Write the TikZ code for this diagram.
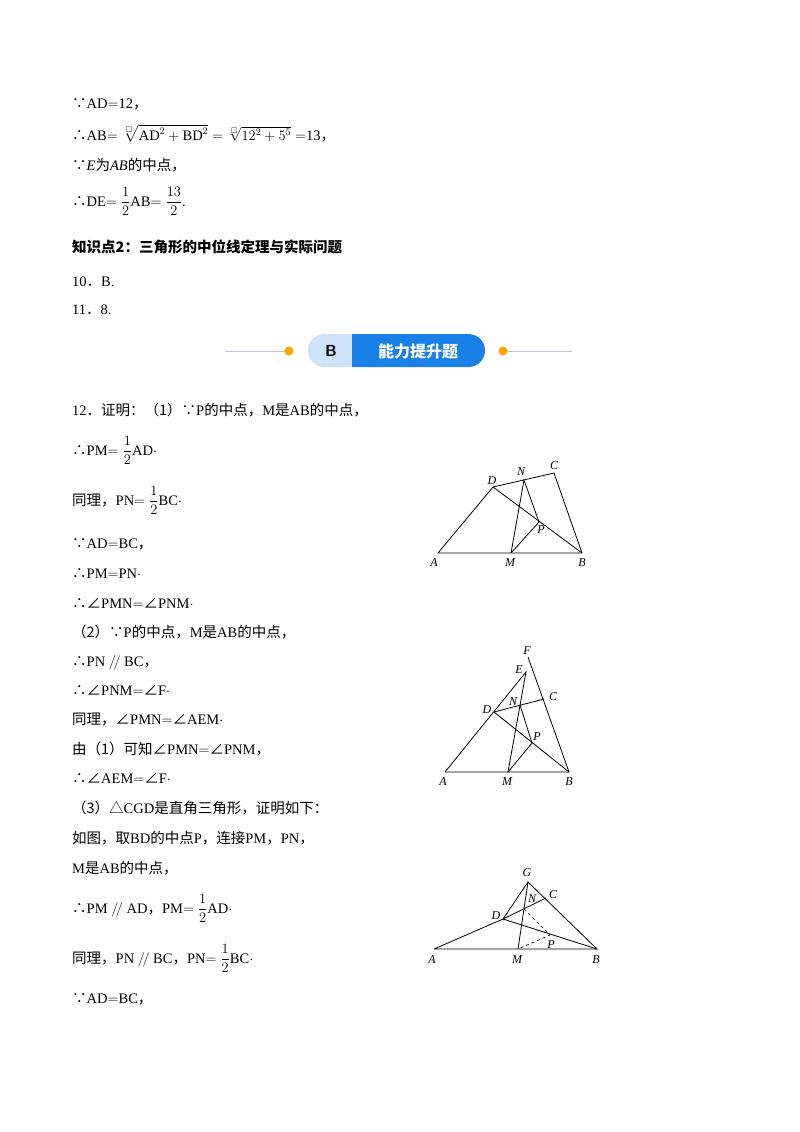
\documentclass[tikz,border=0pt]{standalone}
\usepackage{amssymb}
\usepackage{fontspec}
\setmainfont{Liberation Serif}
\newfontfamily\cjk{Noto Sans CJK SC}
\newcommand{\zh}[1]{{\cjk #1}}
\begin{document}
\begin{tikzpicture}[x=1pt,y=-1pt,
  txt/.style={anchor=base west,inner sep=0pt,font=\fontsize{14.5}{16}\selectfont},
  lbl/.style={inner sep=0pt,font=\fontsize{12}{13}\selectfont\itshape},
  seg/.style={line width=0.8pt},
  dseg/.style={line width=0.7pt,dashed}]
\useasboundingbox (0,0) rectangle (800,1132);
\fill[white] (0,0) rectangle (800,1132);
\def\L{72}
\node[txt] (t1) at (\L,108) {\zh{∵}AD$=$12\zh{，}};
\node[txt] (t2) at (\L,140) {\zh{∴}AB$=\sqrt[\square]{\mathrm{AD}^2+\mathrm{BD}^2}=\sqrt[\square]{12^2+5^5}=$13\zh{，}};
\node[txt] (t3) at (\L,170) {\zh{∵}\textit{E}\zh{为}\textit{AB}\zh{的中点，}};
\node[txt] (t4) at (\L,206) {\zh{∴}DE$=\displaystyle\frac{1}{2}$AB$=\displaystyle\frac{13}{2}$.};
\node[txt] (t5) at (\L,252) {\cjk\bfseries 知识点2：三角形的中位线定理与实际问题};
\node[txt] (t6) at (\L,286) {10\zh{．}B.};
\node[txt] (t7) at (\L,314) {11\zh{．}8.};
% banner
\draw[line width=1pt,color=blue!20!gray!40] (225,351) -- (289,351);
\draw[line width=1pt,color=blue!20!gray!40] (503,351) -- (572,351);
\fill[orange!70!yellow] (289,351) circle (4.5);
\fill[orange!70!yellow] (503,351) circle (4.5);
\begin{scope}
\clip (300,330) rectangle (352,370);
\fill[color={rgb,255:red,206;green,226;blue,248},rounded corners=16.5pt] (308,334) rectangle (485,367);
\end{scope}
\begin{scope}
\clip (352,330) rectangle (490,370);
\fill[color={rgb,255:red,24;green,128;blue,230},rounded corners=16.5pt] (308,334) rectangle (485,367);
\end{scope}
\node[inner sep=0pt,font=\fontsize{16}{18}\selectfont\sffamily\bfseries] (bb) at (331,351) {B};
\node[inner sep=0pt,text=white,font=\fontsize{16}{18}\selectfont\cjk\bfseries] (bt) at (418,351) {能力提升题};
% proof
\node[txt] (p1) at (\L,415) {12\zh{．证明：（1）∵}P\zh{的中点，}M\zh{是}AB\zh{的中点，}};
\node[txt] (p2) at (\L,455) {\zh{∴}PM$=\displaystyle\frac{1}{2}$AD$\cdot$};
\node[txt] (p3) at (\L,505) {\zh{同理，}PN$=\displaystyle\frac{1}{2}$BC$\cdot$};
\node[txt] (p4) at (\L,548) {\zh{∵}AD$=$BC\zh{，}};
\node[txt] (p5) at (\L,578) {\zh{∴}PM$=$PN$\cdot$};
\node[txt] (p6) at (\L,608) {\zh{∴∠}PMN$=$\zh{∠}PNM$\cdot$};
\node[txt] (p7) at (\L,637) {\zh{（2）∵}P\zh{的中点，}M\zh{是}AB\zh{的中点，}};
\node[txt] (p8) at (\L,666) {\zh{∴}PN $/\!/$ BC\zh{，}};
\node[txt] (p9) at (\L,695) {\zh{∴∠}PNM$=$\zh{∠}F$\cdot$};
\node[txt] (p10) at (\L,724) {\zh{同理，∠}PMN$=$\zh{∠}AEM$\cdot$};
\node[txt] (p11) at (\L,754) {\zh{由（1）可知∠}PMN$=$\zh{∠}PNM\zh{，}};
\node[txt] (p12) at (\L,783) {\zh{∴∠}AEM$=$\zh{∠}F$\cdot$};
\node[txt] (p13) at (\L,813) {\zh{（3）△}CGD\zh{是直角三角形，证明如下：}};
\node[txt] (p14) at (\L,843) {\zh{如图，取}BD\zh{的中点}P\zh{，连接}PM\zh{，}PN\zh{，}};
\node[txt] (p15) at (\L,873) {M\zh{是}AB\zh{的中点，}};
\node[txt] (p16) at (\L,913) {\zh{∴}PM $/\!/$ AD\zh{，}PM$=\displaystyle\frac{1}{2}$AD$\cdot$};
\node[txt] (p17) at (\L,963) {\zh{同理，}PN $/\!/$ BC\zh{，}PN$=\displaystyle\frac{1}{2}$BC$\cdot$};
\node[txt] (p18) at (\L,1003) {\zh{∵}AD$=$BC\zh{，}};
% figure 1
\coordinate (A1) at (438,553); \coordinate (M1) at (511,553); \coordinate (B1) at (582,553);
\coordinate (D1) at (493,487); \coordinate (C1) at (554,473); \coordinate (N1) at (524,480);
\coordinate (P1) at (539,522);
\draw[seg] (A1) -- (B1) -- (C1) -- (D1) -- cycle;
\draw[seg] (D1) -- (B1); \draw[seg] (M1) -- (N1) -- (P1) -- (M1);
\node[lbl] at (434,563) {A}; \node[lbl] at (510,563) {M}; \node[lbl] at (582,563) {B};
\node[lbl] at (492,481) {D}; \node[lbl] at (521,472) {N}; \node[lbl] at (554,466) {C};
\node[lbl] at (541,530) {P};
% figure 2
\coordinate (A2) at (445,772); \coordinate (M2) at (508,772); \coordinate (B2) at (569,772);
\coordinate (D2) at (494,712); \coordinate (E2) at (526,672); \coordinate (F2) at (528,657);
\coordinate (C2) at (544,699); \coordinate (N2) at (520,705); \coordinate (P2) at (532,743);
\draw[seg] (A2) -- (B2) -- (F2); \draw[seg] (A2) -- (E2) -- (M2);
\draw[seg] (D2) -- (C2); \draw[seg] (D2) -- (B2); \draw[seg] (N2) -- (P2) -- (M2);
\node[lbl] at (527,651) {F}; \node[lbl] at (519,670) {E}; \node[lbl] at (553,697) {C};
\node[lbl] at (513,702) {N}; \node[lbl] at (487,710) {D}; \node[lbl] at (537,737) {P};
\node[lbl] at (443,782) {A}; \node[lbl] at (507,782) {M}; \node[lbl] at (569,782) {B};
% figure 3
\coordinate (A3) at (434,949); \coordinate (M3) at (518,949); \coordinate (B3) at (597,949);
\coordinate (G3) at (528,882); \coordinate (D3) at (503,919); \coordinate (C3) at (546,898);
\coordinate (N3) at (524,909); \coordinate (P3) at (550,935);
\draw[seg] (A3) -- (B3) -- (G3) -- (D3) -- (A3);
\draw[seg] (D3) -- (C3); \draw[seg] (D3) -- (B3); \draw[seg] (M3) -- (G3);
\draw[dseg] (N3) -- (P3) -- (M3);
\node[lbl] at (527,873) {G}; \node[lbl] at (553,895) {C}; \node[lbl] at (532,899) {N};
\node[lbl] at (496,916) {D}; \node[lbl] at (551,945) {P};
\node[lbl] at (432,960) {A}; \node[lbl] at (517,960) {M}; \node[lbl] at (596,960) {B};
\end{tikzpicture}
\end{document}
